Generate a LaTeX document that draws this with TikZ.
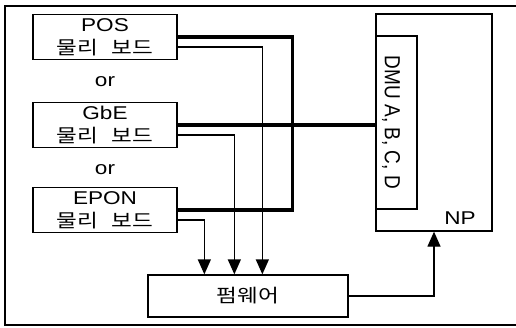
\documentclass[tikz,border=0pt]{standalone}
\usepackage{fontspec}
\setmainfont{Liberation Sans}[FakeStretch=1.22]
\newfontfamily\plainsans{Liberation Sans}
\newfontfamily\kor{Noto Sans CJK KR}[FakeStretch=1.22]
\usetikzlibrary{calc, arrows.meta, positioning}

\tikzset{
  board/.style={draw, line width=1.3pt, minimum width=144pt, minimum height=45pt,
    align=center, inner sep=0pt, font=\fontsize{18.5}{23}\selectfont},
  label text/.style={font=\fontsize{18.5}{23}\selectfont, inner sep=0pt},
  bus/.style={line width=3.5pt},
  flow/.style={line width=1.3pt, -{Triangle[width=13pt, length=15pt]}},
}

\begin{document}
\begin{tikzpicture}[x=1pt, y=-1pt]
        \useasboundingbox (0,0) rectangle (516,327);
        \draw[line width=1.6pt] (516,6) -- (5,6) -- (5,325) -- (516,325);
        \def\boards{POS/37, GbE/125, EPON/210}
        \foreach \name/\ypos [count = \i] in \boards{
          \node[board] (b\i) at (105,\ypos) {\name\\{\kor 물리\hspace{0.7em}보드}};
        }
        \node[label text] (or1) at (105,82) {or};
        \node[label text] (or2) at (105,170) {or};
        \node[board, minimum width=200pt, minimum height=42pt] (fw) at (248,296) {\kor 펌웨어};
        \node[draw, line width=1.3pt, minimum width=116pt, minimum height=217pt] (np) at (434,122.5) {};
        \node[draw, line width=1.3pt, minimum width=41pt, minimum height=173pt, anchor=west] (dmu) at (np.west) {};
        \node[inner sep=0pt, rotate=-90] (dmutext) at (391,122.5)
          {\fontsize{19}{23}\plainsans\scalebox{1}[1.15]{DMU A, B, C, D}};
        \node[label text] (nptext) at (460,218) {NP};
        \draw[bus] (b1.east) -- ++(115,0) |- (b3.east);
        \draw[bus] (b2.east) -- (b2.east -| dmu.west);
        \foreach \i/\dx in {1/115, 2/87, 3/57}{
          \draw[flow] ([yshift=-10pt]b\i.east) -| ($(fw.north west)+(\dx,0)$);
        }
        \draw[flow] (fw.east) -| (np.south);
      \end{tikzpicture}
\end{document}
